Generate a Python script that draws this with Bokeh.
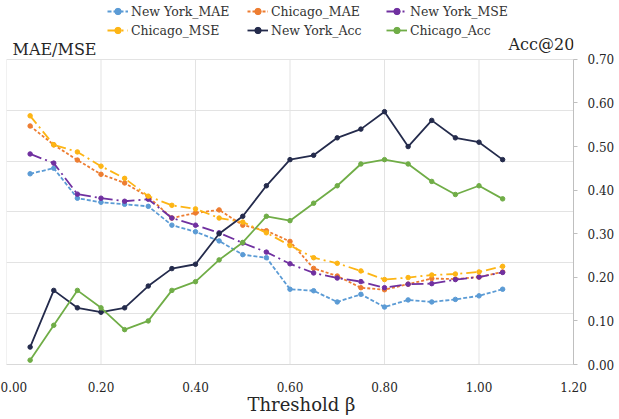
from bokeh.plotting import figure
from bokeh.models import (Range1d, LinearAxis, FixedTicker, NumeralTickFormatter,
                          Grid, Legend, LegendItem, Label)
from bokeh.embed import file_html
from bokeh.resources import INLINE

thresholds = [0.05, 0.10, 0.15, 0.20, 0.25, 0.30, 0.35, 0.40, 0.45, 0.50, 0.55,
              0.60, 0.65, 0.70, 0.75, 0.80, 0.85, 0.90, 0.95, 1.00, 1.05]
ny_mae = [3.75, 3.86, 3.27, 3.19, 3.15, 3.11, 2.74, 2.61, 2.43, 2.16, 2.10,
          1.48, 1.45, 1.23, 1.38, 1.13, 1.27, 1.23, 1.28, 1.35, 1.48]
chi_mae = [4.69, 4.32, 4.02, 3.74, 3.57, 3.30, 2.88, 2.98, 3.04, 2.74, 2.63,
           2.42, 1.89, 1.74, 1.51, 1.47, 1.58, 1.69, 1.68, 1.72, 1.82]
ny_mse = [4.14, 3.96, 3.35, 3.27, 3.21, 3.25, 2.88, 2.74, 2.59, 2.39, 2.21,
          1.98, 1.80, 1.70, 1.63, 1.51, 1.58, 1.59, 1.67, 1.72, 1.81]
chi_mse = [4.89, 4.32, 4.18, 3.90, 3.66, 3.31, 3.13, 3.06, 2.88, 2.80, 2.59,
           2.34, 2.10, 1.99, 1.84, 1.67, 1.71, 1.76, 1.78, 1.82, 1.93]
ny_acc = [0.04, 0.17, 0.13, 0.12, 0.13, 0.18, 0.22, 0.23, 0.30, 0.34, 0.41,
          0.47, 0.48, 0.52, 0.54, 0.58, 0.50, 0.56, 0.52, 0.51, 0.47]
chi_acc = [0.01, 0.09, 0.17, 0.13, 0.08, 0.10, 0.17, 0.19, 0.24, 0.28, 0.34,
           0.33, 0.37, 0.41, 0.46, 0.47, 0.46, 0.42, 0.39, 0.41, 0.38]
x_ticks = [0.0, 0.2, 0.4, 0.6, 0.8, 1.0, 1.2]
acc_ticks = [0.0, 0.1, 0.2, 0.3, 0.4, 0.5, 0.6, 0.7]
left_grid = [0, 1, 2, 3, 4, 5, 6]

FONT = "DejaVu Serif"
GRID = "#E3E3E3"
TXT = "#262626"

# the frame runs from the top of the canvas down to the x axis; the data area
# (0..6 on the hidden left scale, 0..0.7 on the right) fills its lower 311 px
FRAME_H = 371
DATA_H = 311
top_left = left_grid[-1] * FRAME_H / DATA_H
top_acc = acc_ticks[-1] * FRAME_H / DATA_H

p = figure(width=617, height=417, output_backend="svg", toolbar_location=None,
           x_range=Range1d(0, 1.2), y_range=Range1d(0, top_left),
           y_axis_location=None, min_border_left=6, min_border_top=0,
           min_border_bottom=46, min_border_right=42)
p.outline_line_color = None

for g in p.grid:
    g.visible = False
p.add_layout(Grid(dimension=1, ticker=FixedTicker(ticks=left_grid),
                  grid_line_color=GRID, grid_line_width=1), "center")
p.segment(x0=x_ticks, y0=[left_grid[0]] * len(x_ticks), x1=x_ticks,
          y1=[left_grid[-1]] * len(x_ticks), line_color=GRID, line_width=1,
          level="underlay")

p.extra_y_ranges = {"acc": Range1d(0, top_acc)}

xa = p.xaxis[0]
xa.ticker = FixedTicker(ticks=x_ticks)
xa.formatter = NumeralTickFormatter(format="0.00")
xa.major_tick_line_color = None
xa.minor_tick_line_color = None
xa.axis_line_color = "#D9D9D9"
xa.major_label_text_font = FONT
xa.major_label_text_font_size = "12px"
xa.major_label_text_color = TXT
xa.major_label_standoff = 11
xa.axis_label = "\u00a0\u00a0\u00a0\u00a0Threshold β"
xa.axis_label_text_font = FONT
xa.axis_label_text_font_size = "18px"
xa.axis_label_text_font_style = "normal"
xa.axis_label_text_color = TXT
xa.axis_label_standoff = -1

ra = LinearAxis(y_range_name="acc", ticker=FixedTicker(ticks=acc_ticks),
                formatter=NumeralTickFormatter(format="0.00"),
                bounds=(acc_ticks[0], acc_ticks[-1]))
ra.axis_line_color = "#BFBFBF"
ra.major_tick_line_color = "#BFBFBF"
ra.major_tick_out = 4
ra.major_tick_in = 0
ra.minor_tick_line_color = None
ra.major_label_text_font = FONT
ra.major_label_text_font_size = "12px"
ra.major_label_text_color = TXT
ra.major_label_standoff = 10
p.add_layout(ra, "right")

series = [
    ("New York_MAE", ny_mae, "#5B9BD5", "4 2", "default"),
    ("Chicago_MAE", chi_mae, "#ED7D31", "3 2", "default"),
    ("New York_MSE", ny_mse, "#7030A0", "12 4 2 4", "default"),
    ("Chicago_MSE", chi_mse, "#FDB515", "10 4 2 4", "default"),
    ("New York_Acc", ny_acc, "#242B4C", "solid", "acc"),
    ("Chicago_Acc", chi_acc, "#70AD47", "solid", "acc"),
]
items = {}
for name, vals, color, dash, rng in series:
    kw = {} if rng == "default" else {"y_range_name": rng}
    ln = p.line(thresholds, vals, line_color=color, line_width=1.8,
                line_dash=dash, **kw)
    sc = p.scatter(thresholds, vals, marker="circle", size=4.5,
                   fill_color=color, line_color=color, **kw)
    items[name] = LegendItem(label=name, renderers=[ln, sc])

columns = [(["New York_MAE", "Chicago_MSE"], 101),
           (["Chicago_MAE", "New York_Acc"], 241),
           (["New York_MSE", "Chicago_Acc"], 380)]
for names, xloc in columns:
    lg = Legend(items=[items[n] for n in names], location=(xloc, 326),
                orientation="vertical", padding=0, margin=0, spacing=3,
                glyph_width=21, glyph_height=16, label_height=16,
                label_standoff=3, border_line_color=None,
                background_fill_alpha=0, label_text_font=FONT,
                label_text_font_size="12.5px", label_text_color="#333333")
    p.add_layout(lg, "center")

p.add_layout(Label(x=6, y=315, x_units="screen", y_units="screen", text="MAE/MSE",
                   text_font=FONT, text_font_size="16px", text_color=TXT,
                   text_baseline="alphabetic", text_align="left"))
p.add_layout(Label(x=502, y=320, x_units="screen", y_units="screen", text="Acc@20",
                   text_font=FONT, text_font_size="16px", text_color=TXT,
                   text_baseline="alphabetic", text_align="left"))

open("out.html", "w").write(file_html(p, INLINE))
